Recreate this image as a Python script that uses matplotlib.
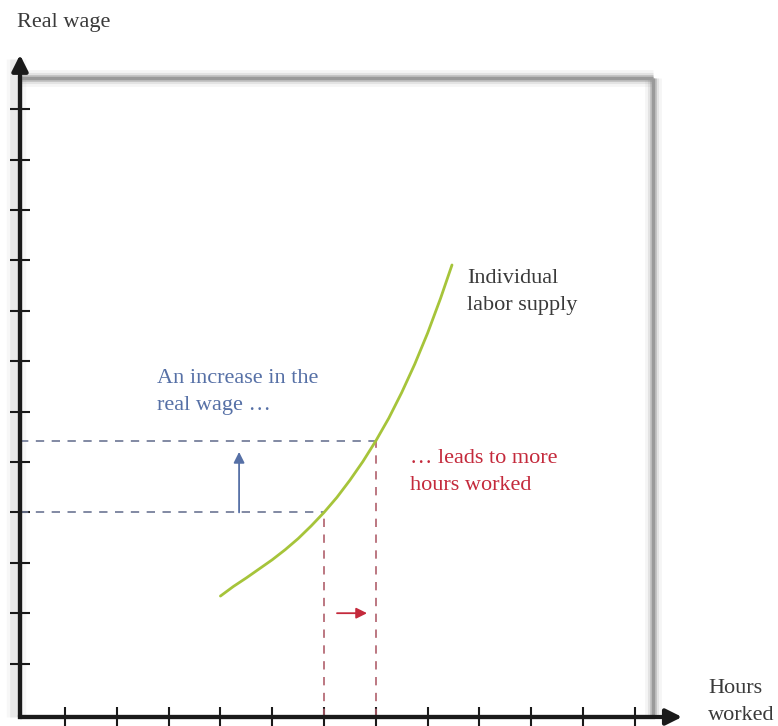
import matplotlib
matplotlib.use("Agg")
import matplotlib.pyplot as plt
from matplotlib import font_manager

# ---- data ----
hours = [4.0, 4.25, 4.5, 4.75, 5.0, 5.25, 5.5, 5.75, 6.0, 6.25, 6.5, 6.75,
         7.0, 7.25, 7.5, 7.75, 8.0, 8.25, 8.47]
wage = [2.34, 2.53, 2.70, 2.88, 3.06, 3.26, 3.48, 3.73, 4.0, 4.30, 4.64, 5.01,
        5.42, 5.87, 6.38, 6.94, 7.56, 8.25, 8.91]
x_ticks = [1, 2, 3, 4, 5, 6, 7, 8, 9, 10, 11, 12]
y_ticks = [1, 2, 3, 4, 5, 6, 7, 8, 9, 10, 11, 12]
low_point = (6.0, 4.0)
high_point = (7.0, 5.42)
wage_arrow = (4.36, 4.0, 5.2)      # x, y from, y to
hours_arrow = (2.0, 6.25, 6.83)    # y, x from, x to

xlabel = "Hours\nworked"
ylabel = "Real wage"
curve_label = "Individual\nlabor supply"
blue_text = "An increase in the\nreal wage \u2026"
red_text = "\u2026 leads to more\nhours worked"

names = {f.name for f in font_manager.fontManager.ttflist}
serif_fams = [n for n in ["Liberation Serif", "Tinos", "Times New Roman",
                          "Nimbus Roman", "DejaVu Serif"] if n in names]
if not serif_fams:
    serif_fams = ["serif"]
FONT = serif_fams + ["DejaVu Sans"]

W, H = 778, 726
fig = plt.figure(figsize=(W / 100, H / 100), dpi=100)
x0, x1 = 0.131, 12.35
y0, y1 = -0.06, 12.62
ax = fig.add_axes([20 / W, (H - 717) / H, (653 - 20) / W, (717 - 78) / H])
ax.set_xlim(x0, x1)
ax.set_ylim(y0, y1)

FS = 16
dark = "#3a3a3a"
blue = "#5670a6"
red = "#c42a3c"
green = "#a6c43a"

for s in ["top", "right"]:
    ax.spines[s].set_visible(False)
for s in ["left", "bottom"]:
    ax.spines[s].set_linewidth(3)
    ax.spines[s].set_color("#1a1a1a")
    ax.spines[s].set_zorder(5)

ax.set_xticks(x_ticks)
ax.set_yticks(y_ticks)
ax.tick_params(direction="inout", length=14, width=1.5, color="#1a1a1a",
               labelbottom=False, labelleft=False)

# gray frame top/right with soft shadow
for lw, a in [(12, 0.08), (8, 0.15), (5, 0.3)]:
    ax.plot([x0, x1], [y1, y1], color="#808080", lw=lw, alpha=a,
            solid_capstyle="butt", clip_on=False, zorder=1)
    ax.plot([x1, x1], [y0, y1], color="#808080", lw=lw, alpha=a,
            solid_capstyle="butt", clip_on=False, zorder=1)
ax.plot([x0, x1], [y1, y1], color="#9a9a9a", lw=2.5, clip_on=False, zorder=2,
        solid_capstyle="butt")
ax.plot([x1, x1], [y0, y1], color="#9a9a9a", lw=2.5, clip_on=False, zorder=2,
        solid_capstyle="butt")

# shadow left of y axis
for lw, a in [(14, 0.06), (9, 0.1)]:
    ax.plot([x0 - 0.08, x0 - 0.08], [y0, 13.0], color="#808080", lw=lw,
            alpha=a, clip_on=False, zorder=1, solid_capstyle="butt")

# axis arrows
ax.annotate("", xy=(x0, 13.08), xytext=(x0, y0),
            arrowprops=dict(arrowstyle="-|>", lw=3, color="#1a1a1a",
                            mutation_scale=24, shrinkA=0, shrinkB=0),
            annotation_clip=False, zorder=6)
ax.annotate("", xy=(12.91, y0), xytext=(x0, y0),
            arrowprops=dict(arrowstyle="-|>", lw=3, color="#1a1a1a",
                            mutation_scale=24, shrinkA=0, shrinkB=0),
            annotation_clip=False, zorder=6)

# dashed guides
hcol = "#6c7693"
vcol = "#b0606c"
dash = (0, (5.0, 4.5))
ax.plot([x0, low_point[0]], [low_point[1], low_point[1]], color=hcol, lw=1.2, ls=dash)
ax.plot([x0, high_point[0]], [high_point[1], high_point[1]], color=hcol, lw=1.2, ls=dash)
ax.plot([low_point[0], low_point[0]], [y0, low_point[1]], color=vcol, lw=1.2, ls=dash)
ax.plot([high_point[0], high_point[0]], [y0, high_point[1]], color=vcol, lw=1.2, ls=dash)

# supply curve
ax.plot(hours, wage, color=green, lw=2.0, solid_capstyle="round",
        solid_joinstyle="round", zorder=4)

# small arrows
ax.annotate("", xy=(wage_arrow[0], wage_arrow[2]), xytext=(wage_arrow[0], wage_arrow[1]),
            arrowprops=dict(arrowstyle="-|>", lw=1.3, color=blue,
                            mutation_scale=16, shrinkA=0, shrinkB=0))
ax.annotate("", xy=(hours_arrow[2], hours_arrow[0]), xytext=(hours_arrow[1], hours_arrow[0]),
            arrowprops=dict(arrowstyle="-|>", lw=1.3, color=red,
                            mutation_scale=16, shrinkA=0, shrinkB=0))

def ftext(px, py_last, s, color):
    # py_last: pixel baseline of the last line
    fig.text(px / W, 1 - py_last / H, s, color=color, fontsize=FS, family=FONT,
             va="baseline", ha="left", linespacing=1.6)

ftext(17, 27, ylabel, dark)
ftext(708, 720, xlabel, dark)
ftext(467, 310, curve_label, dark)
ftext(157, 410, blue_text, blue)
ftext(410, 490, red_text, red)

fig.savefig("out.png", dpi=100)
